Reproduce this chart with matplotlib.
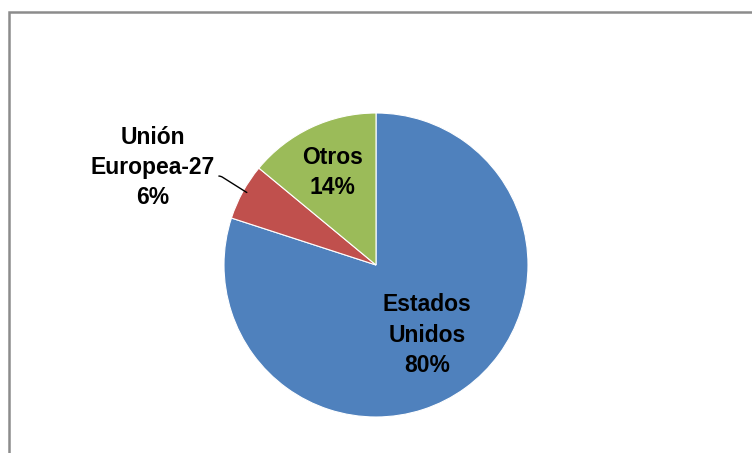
import numpy as np
import matplotlib
matplotlib.use("Agg")
import matplotlib.pyplot as plt
from matplotlib.lines import Line2D

# Datos del gráfico
regiones = ["Estados\nUnidos", "Unión\nEuropea-27", "Otros"]
porcentajes = [80, 6, 14]
colores = ["#4F81BD", "#C0504D", "#9BBB59"]

W, H = 752, 453
cx, cy, radio = 376, 265, 152  # centro y radio de la torta en píxeles

fig = plt.figure(figsize=(W / 100, H / 100), dpi=100)
fig.patch.set_facecolor("white")
ax = fig.add_axes([0, 0, 1, 1])

wedges, _ = ax.pie(porcentajes, colors=colores, startangle=90, counterclock=False,
                   radius=1, wedgeprops=dict(edgecolor="white", linewidth=0.8))

# Límites para que la torta quede en la posición de la imagen original
ax.set_xlim(-cx / radio, (W - cx) / radio)
ax.set_ylim(-(H - cy) / radio, cy / radio)
ax.set_aspect("equal")
ax.axis("off")

fuente = dict(family=["Liberation Sans", "DejaVu Sans"], weight="bold", fontsize=16.5,
              ha="center", va="center", linespacing=1.4)

def angulo_medio(w):
    return np.deg2rad((w.theta1 + w.theta2) / 2)

# Estados Unidos (dentro)
a = angulo_medio(wedges[0])
ax.text(0.57 * np.cos(a), 0.57 * np.sin(a), f"{regiones[0]}\n{porcentajes[0]}%", **fuente)

# Otros (dentro)
a = angulo_medio(wedges[2])
ax.text(0.67 * np.cos(a), 0.67 * np.sin(a), f"{regiones[2]}\n{porcentajes[2]}%", **fuente)

# Unión Europea-27 (fuera, con línea guía)
a = angulo_medio(wedges[1])
ax.annotate(f"{regiones[1]}\n{porcentajes[1]}%",
            xy=(0.97 * np.cos(a), 0.99 * np.sin(a)),
            xytext=(-1.47, 0.64),
            arrowprops=dict(arrowstyle="-", color="black", lw=1,
                            connectionstyle="arc,angleA=0,armA=6,angleB=0,armB=0,rad=2",
                            shrinkA=1, shrinkB=0, relpos=(1.0, 0.4)),
            **fuente)

# Marco gris (solo izquierda y arriba visibles)
x0 = 8.5 / W
y0 = 1 - 11.5 / H
fig.add_artist(Line2D([x0, x0, 1], [0, y0, y0], transform=fig.transFigure,
                      color="#8C8C8C", lw=1.8, solid_joinstyle="miter"))

fig.savefig("out.png", dpi=100, facecolor="white")
